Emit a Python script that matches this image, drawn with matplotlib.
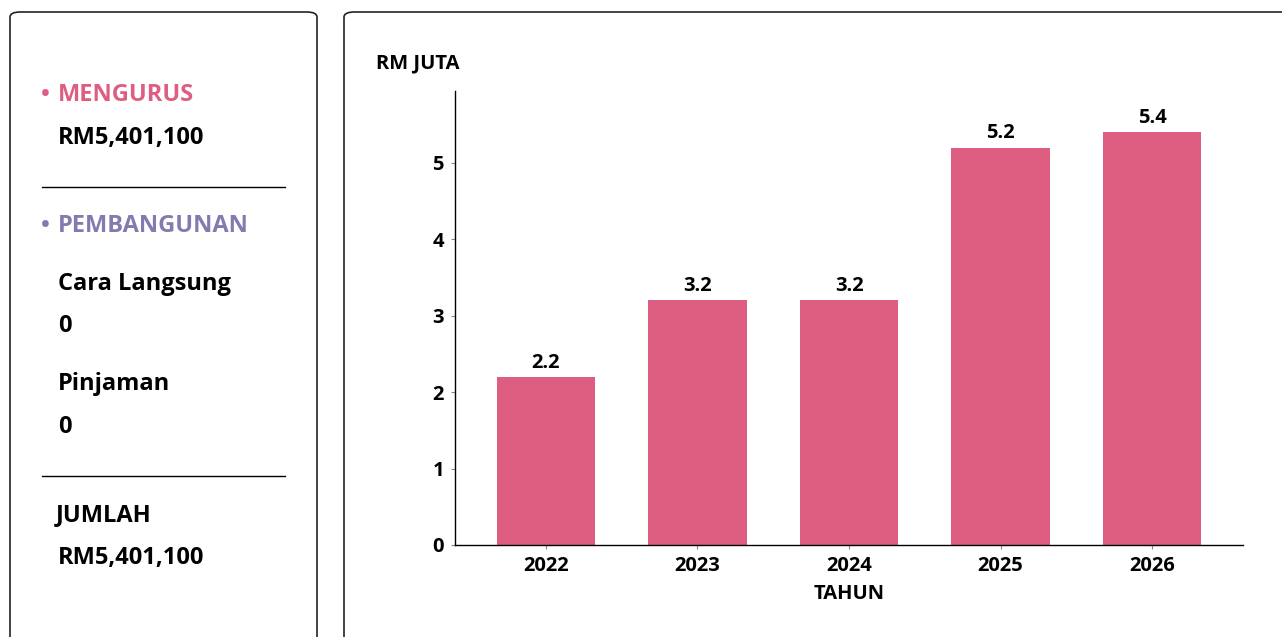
import matplotlib.pyplot as plt
from matplotlib.patches import FancyBboxPatch

# data
tahun = ["2022", "2023", "2024", "2025", "2026"]
nilai = [2.2, 3.2, 3.2, 5.2, 5.4]

mengurus = "RM5,401,100"
cara_langsung = "0"
pinjaman = "0"
jumlah = "RM5,401,100"

PINK = "#de5e82"
UNGU = "#847aaf"

plt.rcParams['font.family'] = ['Open Sans', 'DejaVu Sans']
plt.rcParams['font.weight'] = 'bold'

W, H = 1282, 637
fig = plt.figure(figsize=(W / 100, H / 100), dpi=100)

def fx(px):
    return px / W

def fy(py):
    return 1 - py / H

# panel boxes (cut off by figure edge like the screenshot)
for x0, y0, x1, y1 in [(10, 12, 317, 700), (344, 12, 1330, 700)]:
    box = FancyBboxPatch((fx(x0), fy(y1)), fx(x1) - fx(x0), fy(y0) - fy(y1),
                         boxstyle="round,pad=0,rounding_size=0.008",
                         transform=fig.transFigure, facecolor="none",
                         edgecolor="#222222", linewidth=1.2, clip_on=False)
    fig.patches.append(box)

# left panel text
fs = 17
def teks(x, y, s, c="black"):
    fig.text(fx(x), fy(y + 3), s, color=c, fontsize=fs, va="center", fontweight="bold")

teks(41, 92, "•", PINK)
teks(58, 92, "MENGURUS", PINK)
teks(58, 135, mengurus)
fig.add_artist(plt.Line2D([fx(42), fx(285)], [fy(187), fy(187)], color="black", linewidth=1,
                          transform=fig.transFigure))
teks(41, 223, "•", UNGU)
teks(58, 223, "PEMBANGUNAN", UNGU)
teks(58, 281, "Cara Langsung")
teks(58, 323, cara_langsung)
teks(58, 381, "Pinjaman")
teks(58, 424, pinjaman)
fig.add_artist(plt.Line2D([fx(42), fx(285)], [fy(476), fy(476)], color="black", linewidth=1,
                          transform=fig.transFigure))
teks(56, 512, "JUMLAH")
teks(58, 555, jumlah)

# chart
cs = 14.5
ax = fig.add_axes([fx(455), fy(545), fx(1243) - fx(455), fy(91) - fy(545)])
bars = ax.bar(range(len(tahun)), nilai, width=0.65, color=PINK)
ax.bar_label(bars, fmt="%.1f", padding=3, fontsize=cs, fontweight="bold")
ax.set_xlim(-0.6, 4.6)
ax.set_ylim(0, max(nilai) * 1.1)
ax.set_xticks(range(len(tahun)))
ax.set_xticklabels(tahun)
ax.set_yticks([0, 1, 2, 3, 4, 5])
ax.tick_params(axis="both", labelsize=cs, length=3, color="#888888", width=0.8, pad=5)
for lab in ax.get_xticklabels() + ax.get_yticklabels():
    lab.set_fontweight("bold")
ax.spines["top"].set_visible(False)
ax.spines["right"].set_visible(False)
ax.spines["left"].set_linewidth(1)
ax.spines["bottom"].set_linewidth(1)
ax.set_xlabel("TAHUN", fontsize=cs, fontweight="bold", labelpad=6)
fig.text(fx(376), fy(63), "RM JUTA", fontsize=cs, va="center", fontweight="bold")

fig.savefig("out.png", dpi=100)
